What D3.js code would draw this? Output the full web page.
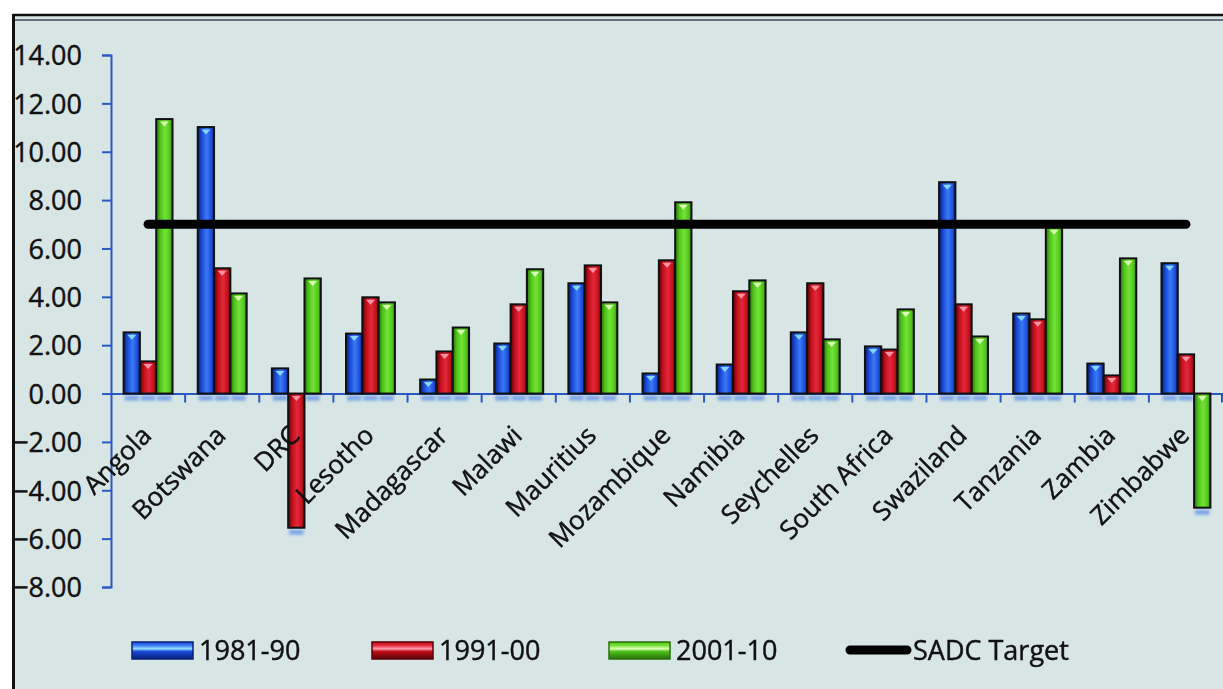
<!DOCTYPE html>
<html>
<head>
<meta charset="utf-8">
<script src="https://cdn.jsdelivr.net/npm/d3@7"></script>
<style>
  html, body { margin: 0; padding: 0; background: #ffffff; }
  svg { display: block; }
  text { font-family: "Open Sans", sans-serif; fill: #111; stroke: #111; stroke-width: 0.45px; }
</style>
</head>
<body>
<script>
// ---------- DATA ----------
const categories = ["Angola","Botswana","DRC","Lesotho","Madagascar","Malawi","Mauritius","Mozambique","Namibia","Seychelles","South Africa","Swaziland","Tanzania","Zambia","Zimbabwe"];
const seriesNames = ["1981-90","1991-00","2001-10"];
const values1981 = [2.53, 11.02, 1.04, 2.48, 0.58, 2.07, 4.56, 0.83, 1.20, 2.53, 1.95, 8.74, 3.31, 1.24, 5.39];
const values1991 = [1.33, 5.18, -5.55, 3.98, 1.74, 3.69, 5.30, 5.51, 4.23, 4.56, 1.82, 3.69, 3.07, 0.75, 1.62];
const values2001 = [11.35, 4.14, 4.76, 3.77, 2.73, 5.14, 3.77, 7.91, 4.68, 2.24, 3.48, 2.36, 6.88, 5.59, -4.72];
const sadcTarget = [7,7,7,7,7,7,7,7,7,7,7,7,7,7,7];
const targetName = "SADC Target";
const yTicks = [-8,-6,-4,-2,0,2,4,6,8,10,12,14];

// ---------- LAYOUT ----------
const W = 1223, H = 689;
const svg = d3.select("body").append("svg").attr("width", W).attr("height", H);
const defs = svg.append("defs");

const palette = {
  "1981-90": {dark:"#071f78", main:"#1b4bd8", hi:"#3a7af5", tri:"#8fe0ff"},
  "1991-00": {dark:"#5a0006", main:"#c2101b", hi:"#e4283a", tri:"#ff9fb0"},
  "2001-10": {dark:"#2a7008", main:"#4ec41c", hi:"#74e236", tri:"#e4ffc0"}
};
seriesNames.forEach((s,i) => {
  const c = palette[s];
  const g = defs.append("linearGradient").attr("id","g"+i).attr("x1","0").attr("x2","1").attr("y1","0").attr("y2","0");
  g.append("stop").attr("offset","0%").attr("stop-color",c.dark);
  g.append("stop").attr("offset","25%").attr("stop-color",c.main);
  g.append("stop").attr("offset","55%").attr("stop-color",c.hi);
  g.append("stop").attr("offset","85%").attr("stop-color",c.main);
  g.append("stop").attr("offset","100%").attr("stop-color",c.dark);
  const lg = defs.append("linearGradient").attr("id","lg"+i).attr("x1","0").attr("x2","0").attr("y1","0").attr("y2","1");
  lg.append("stop").attr("offset","0%").attr("stop-color",c.main);
  lg.append("stop").attr("offset","20%").attr("stop-color",c.hi);
  lg.append("stop").attr("offset","40%").attr("stop-color",c.tri);
  lg.append("stop").attr("offset","55%").attr("stop-color",c.main);
  lg.append("stop").attr("offset","100%").attr("stop-color",c.dark);
});
const blur = defs.append("filter").attr("id","blur").attr("x","-50%").attr("y","-50%").attr("width","200%").attr("height","200%");
blur.append("feGaussianBlur").attr("stdDeviation", 1.6);

// frame / background
svg.append("rect").attr("x",13).attr("y",15).attr("width",W-13).attr("height",H-15).attr("fill","#d7e6e5");
svg.append("line").attr("x1",13).attr("x2",W).attr("y1",15).attr("y2",15).attr("stroke","#111").attr("stroke-width",2.5);
svg.append("line").attr("x1",13).attr("x2",W).attr("y1",20).attr("y2",20).attr("stroke","#3d4a55").attr("stroke-width",1.5);

// scales
const y = d3.scaleLinear().domain([-8,14]).range([587,55]);
const x = d3.scaleBand().domain(categories).range([111,1223]).paddingInner(0.34).paddingOuter(0.17);
const xs = d3.scaleBand().domain(seriesNames).range([0, x.bandwidth()]);

const axisColor = "#2a58c4";

// y-axis
const yAxis = d3.axisLeft(y).tickValues(yTicks).tickSize(9).tickFormat(d3.format(".2f"));
const yg = svg.append("g").attr("transform","translate(111,0)").call(yAxis);
yg.select(".domain").attr("stroke",axisColor).attr("stroke-width",2);
yg.selectAll(".tick line").attr("stroke",axisColor).attr("stroke-width",2);
yg.selectAll(".tick text").attr("x",-29).attr("dy","0.36em").style("font-size","27px").style("font-family","'Open Sans', sans-serif").attr("fill","#111");
// frame left border above labels (clips "14.00")
svg.append("rect").attr("x",0).attr("y",0).attr("width",12).attr("height",H).attr("fill","#fff");
svg.append("line").attr("x1",13.5).attr("x2",13.5).attr("y1",14).attr("y2",H).attr("stroke","#111").attr("stroke-width",3);

const seriesData = [values1981, values1991, values2001];

// bar reflections (glow)
const glowG = svg.append("g").attr("filter","url(#blur)");
seriesData.forEach((vals,si) => {
  glowG.selectAll(null).data(vals).enter().append("rect")
    .attr("x",(d,i)=>x(categories[i])+xs(seriesNames[si])+1)
    .attr("width",xs.bandwidth()-2)
    .attr("y",d=>Math.max(y(d),y(0))+2)
    .attr("height",5)
    .attr("fill","#5b8fe8").attr("opacity",0.75);
});

// x axis line + ticks
const xAxis = d3.axisBottom(x).tickSize(0).tickFormat("");
const xg = svg.append("g").attr("transform",`translate(0,${y(0)})`).call(xAxis);
xg.select(".domain").attr("stroke",axisColor).attr("stroke-width",2);
const boundaries = categories.map(c => x(c) - x.step()*x.paddingOuter()).slice(1).concat([1222]);
svg.append("g").selectAll("line").data(boundaries).enter().append("line")
  .attr("x1",d=>d).attr("x2",d=>d).attr("y1",y(0)).attr("y2",y(0)+9)
  .attr("stroke",axisColor).attr("stroke-width",2);

// bars
seriesData.forEach((vals,si) => {
  const s = seriesNames[si];
  const g = svg.append("g");
  const bw = xs.bandwidth();
  g.selectAll("rect").data(vals).enter().append("rect")
    .attr("x",(d,i)=>x(categories[i])+xs(s))
    .attr("width",bw)
    .attr("y",d=>Math.min(y(d),y(0)))
    .attr("height",d=>Math.abs(y(d)-y(0)))
    .attr("fill",`url(#g${si})`)
    .attr("stroke","#101010").attr("stroke-width",2);
  g.selectAll("path").data(vals).enter().append("path")
    .attr("d",(d,i)=>{
      const cx = x(categories[i])+xs(s)+bw/2;
      const top = Math.min(y(d),y(0))+2.5;
      return `M${cx-4.5},${top} L${cx+4.5},${top} L${cx},${top+5} Z`;
    })
    .attr("fill",palette[s].tri).attr("opacity",0.9);
});

// x labels
svg.append("g").selectAll("text").data(categories).enter().append("text")
  .attr("transform",d=>`translate(${x(d)+x.bandwidth()/2+5},437) rotate(-45)`)
  .attr("text-anchor","end")
  .style("font-size","26px")
  .text(d=>d);

// SADC target line
const line = d3.line().x((d,i)=>x(categories[i])+x.bandwidth()/2).y(d=>y(d));
svg.append("path").datum(sadcTarget).attr("d",line)
  .attr("fill","none").attr("stroke","#000").attr("stroke-width",9).attr("stroke-linecap","round");

// legend
const legendItems = [
  {name:seriesNames[0], x:132, type:"bar", i:0},
  {name:seriesNames[1], x:372, type:"bar", i:1},
  {name:seriesNames[2], x:609, type:"bar", i:2},
  {name:targetName, x:846, type:"line"}
];
const ly = 650;
const lg = svg.append("g");
legendItems.forEach(it => {
  if (it.type === "bar") {
    lg.append("rect").attr("x",it.x).attr("y",ly-8).attr("width",61).attr("height",17)
      .attr("fill",`url(#lg${it.i})`).attr("stroke",palette[it.name].dark).attr("stroke-width",1.5);
  } else {
    lg.append("line").attr("x1",it.x+4).attr("x2",it.x+61).attr("y1",ly).attr("y2",ly)
      .attr("stroke","#000").attr("stroke-width",9).attr("stroke-linecap","round");
  }
  lg.append("text").attr("x",it.x+67).attr("y",ly).attr("dy","0.36em").style("font-size","27px").text(it.name);
});
</script>
</body>
</html>
